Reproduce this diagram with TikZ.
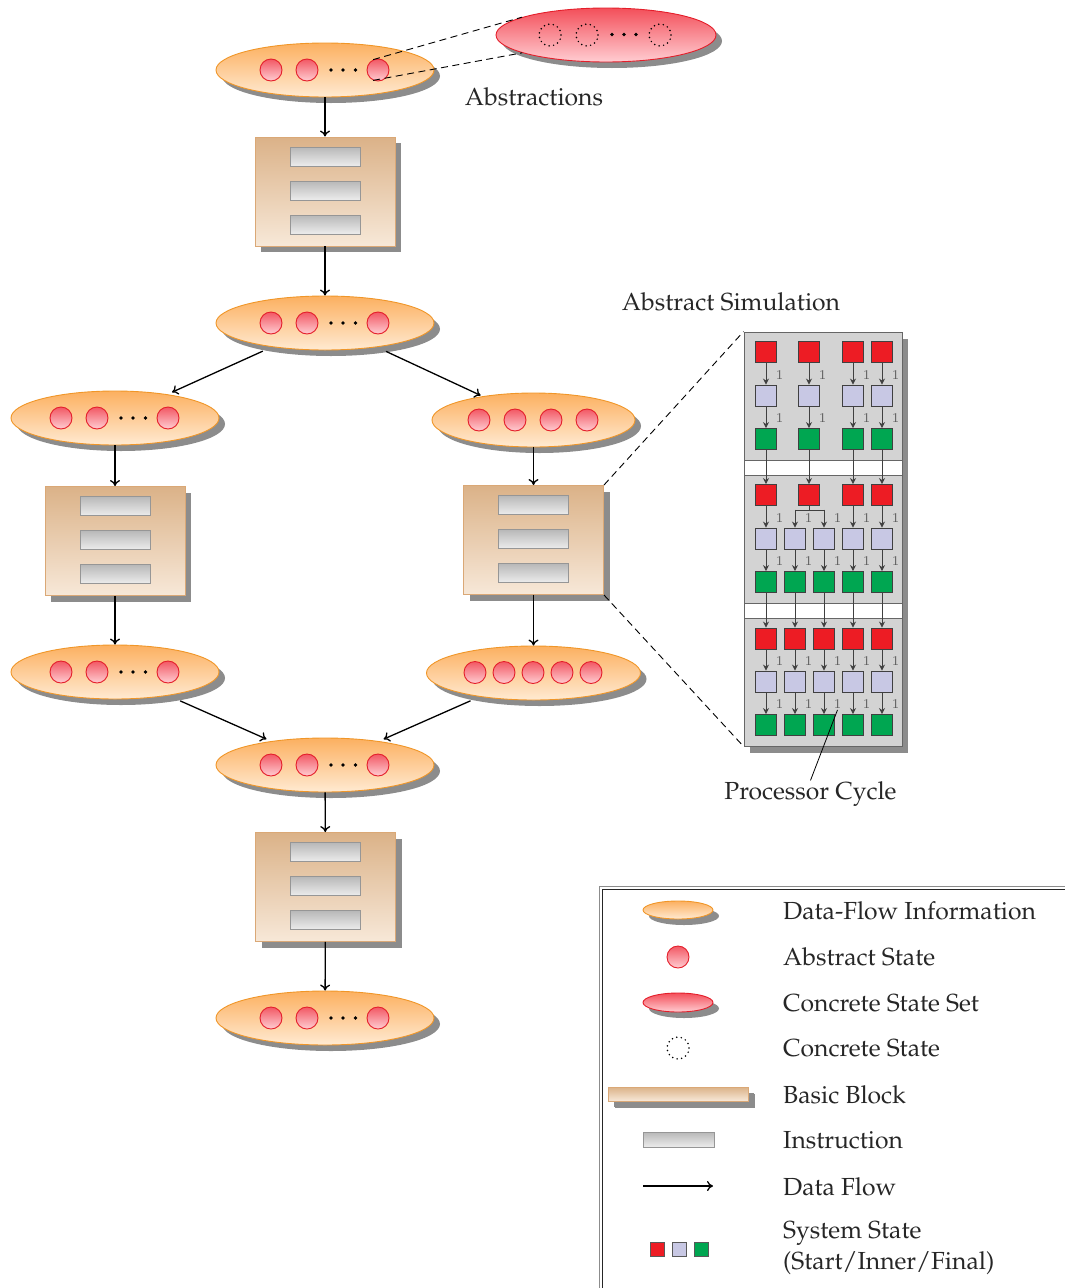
\documentclass[tikz,border=0pt]{standalone}
\usepackage[T1]{fontenc}
\usepackage{mathpazo}
\usetikzlibrary{shapes.geometric,shadows,arrows.meta,calc}

\definecolor{orTop}{RGB}{252,176,96}
\definecolor{orBot}{RGB}{255,234,210}
\definecolor{orLine}{RGB}{240,150,40}
\definecolor{rdTop}{RGB}{242,88,100}
\definecolor{rdBot}{RGB}{255,205,210}
\definecolor{rdLine}{RGB}{228,30,42}
\definecolor{bbTop}{RGB}{219,178,136}
\definecolor{bbBot}{RGB}{247,232,216}
\definecolor{bbLine}{RGB}{218,168,118}
\definecolor{inTop}{RGB}{184,184,184}
\definecolor{inBot}{RGB}{236,236,236}
\definecolor{inLine}{RGB}{150,150,150}
\definecolor{shd}{RGB}{140,140,140}
\definecolor{sqRed}{RGB}{237,28,36}
\definecolor{sqLav}{RGB}{200,200,228}
\definecolor{sqGrn}{RGB}{0,166,81}
\definecolor{panelGray}{RGB}{211,211,211}

\tikzset{
  shadowed/.style={drop shadow={shadow xshift=6pt,shadow yshift=-6pt,fill=shd,opacity=1}},
  dfi/.style={ellipse,minimum height=54pt,inner sep=0pt,top color=orTop,bottom color=orBot,draw=orLine,line width=0.9pt,shadowed},
  absst/.style={circle,minimum size=22pt,inner sep=0pt,top color=rdTop,bottom color=rdBot,draw=rdLine,line width=0.9pt},
  cset/.style={ellipse,minimum height=54pt,inner sep=0pt,top color=rdTop!90!red,bottom color=rdBot,draw=rdLine,line width=0.9pt,shadowed},
  cstate/.style={circle,minimum size=22pt,inner sep=0pt,draw=black,line width=1.7pt,line cap=round,dash pattern=on 0pt off 4.6pt},
  bblock/.style={rectangle,minimum width=140pt,minimum height=109pt,inner sep=0pt,top color=bbTop,bottom color=bbBot,draw=bbLine,line width=0.9pt,shadowed},
  instr/.style={rectangle,minimum width=70pt,minimum height=19pt,inner sep=0pt,top color=inTop,bottom color=inBot,draw=inLine,line width=0.9pt},
  flow/.style={-{To[length=6pt,width=10pt]},line width=1.3pt,black},
  diag/.style={flow,shorten <=10pt,shorten >=5pt},
  zoomln/.style={dash pattern=on 7pt off 4.5pt,line width=0.9pt,black},
  txt/.style={font=\fontsize{24.7}{31}\selectfont,inner sep=1pt,text=black!85},
  leg/.style={txt,anchor=west,align=left},
  sq/.style={rectangle,minimum size=21pt,inner sep=0pt,draw=black!75,line width=0.9pt},
  lsq/.style={rectangle,minimum size=14pt,inner sep=0pt,draw=black!65,line width=0.9pt},
  parr/.style={-{Stealth[length=6pt,width=6pt]},line width=0.9pt,draw=black!75,fill=black!75},
  pline/.style={line width=0.9pt,draw=black!75},
  lab/.style={font=\ttfamily\fontsize{14}{14}\selectfont,text=black!65,xshift=13.5pt,inner sep=0.5pt},
  secbox/.style={rectangle,minimum width=158pt,minimum height=128pt,inner sep=0pt,fill=panelGray,draw=black!60,line width=0.9pt},
  panelbox/.style={rectangle,minimum width=158pt,minimum height=414pt,inner sep=0pt,fill=white,draw=black!60,line width=0.9pt,drop shadow={shadow xshift=6pt,shadow yshift=-7pt,fill=shd,opacity=1}}
}

% ellipse with three abstract states and dots
\newcommand\dfell[4]{%
  \node[dfi,minimum width=#4pt] (#1) at (#2,#3) {};
  \node[absst] (#1a) at ({#2-54},#3) {};
  \node[absst] (#1b) at ({#2-18},#3) {};
  \node[absst] (#1c) at ({#2+53},#3) {};
  \foreach \d in {6,18,30.5} \fill ({#2+\d},#3) circle (1.8);
}
% basic block with three instructions
\newcommand\bblk[3]{%
  \node[bblock] (#1) at (#2,#3) {};
  \node[instr] (#1i1) at (#2,{#3-35}) {};
  \node[instr] (#1i2) at (#2,{#3-1}) {};
  \node[instr] (#1i3) at (#2,{#3+33}) {};
}

\begin{document}
\begin{tikzpicture}[x=1pt,y=-1pt]
\useasboundingbox (0,0) rectangle (1065,1288);

% ---------- concrete state set (top) ----------
\node[cset,minimum width=220pt] (CSS) at (606,35) {};
\node[cstate] (cs1) at (550,35) {};
\node[cstate] (cs2) at (587,35) {};
\node[cstate] (cs3) at (660,35) {};
\foreach \d in {612,624,636} \fill (\d,34.5) circle (1.8);

% ---------- flow graph ----------
\dfell{A1}{325}{70}{218}
\bblk{BB1}{325}{191.5}
\dfell{A2}{325}{323}{218}

\dfell{L1}{115}{418}{208}
\node[dfi,minimum width=203pt] (R1) at (533.5,420) {};
\foreach \x [count=\i] in {479,515,551,587} \node[absst] (R1s\i) at (\x,420) {};

\bblk{BBL}{115}{541}
\bblk{BBR}{533.5}{540}

\dfell{L2}{115}{672}{208}
\node[dfi,minimum width=214pt] (R2) at (533.5,673) {};
\foreach \x [count=\i] in {475,504,533,562,591} \node[absst] (R2s\i) at (\x,672.5) {};

\dfell{A3}{325}{765}{218}
\bblk{BB3}{325.5}{887}
\dfell{A4}{325}{1018}{218}

\draw[flow] (A1) -- (BB1);
\draw[flow] (BB1) -- (A2);
\draw[diag] (A2) -- (L1);
\draw[diag,shorten >=2pt] (A2) -- (R1);
\draw[flow] (L1) -- (BBL);
\draw[flow] (R1) -- (BBR);
\draw[flow] (BBL) -- (L2);
\draw[flow] (BBR) -- (R2);
\draw[diag,shorten <=13pt] (L2) -- (A3);
\draw[diag] (R2) -- (A3);
\draw[flow] (A3) -- (BB3);
\draw[flow] (BB3) -- (A4);

% zoom lines to concrete state set
\draw[zoomln] (A1c.115) -- (CSS.168);
\draw[zoomln] (A1c.245) -- (CSS.192);

\node[txt] (absl) at (534,97) {Abstractions};
\node[txt] (siml) at (731,302) {Abstract Simulation};

% ---------- abstract simulation panel ----------
\node[panelbox] (panel) at (823,539) {};
\node[secbox] (sec1) at (823,396) {};
\node[secbox] (sec2) at (823,539) {};
\node[secbox] (sec3) at (823,682) {};

% section 1
\foreach \x [count=\i] in {766,809,853,882} {
  \node[sq,fill=sqRed] (aR\i) at (\x,352) {};
  \node[sq,fill=sqLav] (aL\i) at (\x,395.5) {};
  \node[sq,fill=sqGrn] (aG\i) at (\x,439) {};
  \draw[parr] (aR\i) -- node[lab,pos=.55]{1} (aL\i);
  \draw[parr] (aL\i) -- node[lab,pos=.55]{1} (aG\i);
}
% section 2
\foreach \x [count=\i] in {766,809,853,882}
  \node[sq,fill=sqRed] (bR\i) at (\x,495) {};
\foreach \x [count=\i] in {766,795,824,853,882} {
  \node[sq,fill=sqLav] (bL\i) at (\x,538.5) {};
  \node[sq,fill=sqGrn] (bG\i) at (\x,582) {};
  \draw[parr] (bL\i) -- node[lab,pos=.55]{1} (bG\i);
}
\draw[parr] (bR1) -- node[lab,pos=.55]{1} (bL1);
\draw[parr] (bR3) -- node[lab,pos=.55]{1} (bL4);
\draw[parr] (bR4) -- node[lab,pos=.55]{1} (bL5);
\draw[pline] (bR2.south) -- ++(0,4) coordinate (spl);
\draw[pline] (spl -| bL2) -- (spl -| bL3);
\draw[parr] (spl -| bL2) -- node[lab,pos=.45]{1} (bL2);
\draw[parr] (spl -| bL3) -- node[lab,pos=.45]{1} (bL3);
% section 3
\foreach \x [count=\i] in {766,795,824,853,882} {
  \node[sq,fill=sqRed] (cR\i) at (\x,638.5) {};
  \node[sq,fill=sqLav] (cL\i) at (\x,681.5) {};
  \node[sq,fill=sqGrn] (cG\i) at (\x,725) {};
  \draw[parr] (cR\i) -- node[lab,pos=.55]{1} (cL\i);
  \draw[parr] (cL\i) -- node[lab,pos=.55] (cM\i) {1} (cG\i);
}
% between sections
\foreach \i in {1,...,4} \draw[parr] (aG\i) -- (bR\i);
\foreach \i in {1,...,5} \draw[parr] (bG\i) -- (cR\i);

\node[txt] (pc) at (810.5,794) {Processor Cycle};
\draw[line width=0.8pt] (pc.north) -- (cM3.south);

% zoom lines to panel
\draw[zoomln] (BBR.north east) -- (panel.north west);
\draw[zoomln] (BBR.south east) -- (panel.south west);

% ---------- legend ----------
\draw[line width=1pt,draw=black!45] (599,886) rectangle (1090,1300);
\draw[line width=0.8pt,draw=black!85] (602,889) rectangle (1090,1300);

\node[dfi,minimum width=70pt,minimum height=18pt] (lg1) at (678,910) {};
\node[absst] (lg2) at (678,957) {};
\node[cset,minimum width=70pt,minimum height=19pt] (lg3) at (678,1002.5) {};
\node[cstate] (lg4) at (678,1048) {};
\node[bblock,minimum width=140pt,minimum height=14pt,drop shadow={shadow xshift=7pt,shadow yshift=-7pt,fill=shd,opacity=1}] (lg5) at (678,1094) {};
\node[instr,minimum width=71pt,minimum height=15pt] (lg6) at (678.5,1139.5) {};
\coordinate (lg7a) at (643,1186);
\coordinate (lg7b) at (713,1186);
\draw[flow] (lg7a) -- (lg7b);
\node[lsq,fill=sqRed] (lg8a) at (657,1249.5) {};
\node[lsq,fill=sqLav] (lg8b) at (679,1249.5) {};
\node[lsq,fill=sqGrn] (lg8c) at (701,1249.5) {};

\node[leg] (t1) at (782,911) {Data-Flow Information};
\node[leg] (t2) at (782,957) {Abstract State};
\node[leg] (t3) at (782,1003) {Concrete State Set};
\node[leg] (t4) at (782,1048) {Concrete State};
\node[leg] (t5) at (782,1095) {Basic Block};
\node[leg] (t6) at (782,1140) {Instruction};
\node[leg] (t7) at (782,1187) {Data Flow};
\node[leg] (t8) at (782,1248) {System State\\(Start/Inner/Final)};
\end{tikzpicture}
\end{document}
